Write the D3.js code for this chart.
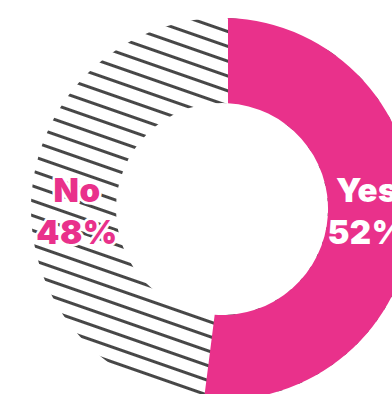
<!DOCTYPE html>
<html>
<head>
<meta charset="utf-8">
<script src="https://cdn.jsdelivr.net/npm/d3@7"></script>
<style>
  html, body { margin: 0; padding: 0; background: #ffffff; }
  svg { display: block; }
</style>
</head>
<body>
<div id="chart"></div>
<script>
// Survey answers shown in the donut
const answers = ["Yes", "No"];
const shares = [52, 48];
const labels = ["52%", "48%"];

const width = 392, height = 394;
const cx = 222, cy = 209;
const outerR = 191, innerR = 106;
const pink = "#e9318b";
const hatchInk = "#474747";

const svg = d3.select("#chart").append("svg")
  .attr("width", width)
  .attr("height", height);

// Diagonal hatching used for the "No" part of the ring
const defs = svg.append("defs");
const hatch = defs.append("pattern")
  .attr("id", "hatch")
  .attr("patternUnits", "userSpaceOnUse")
  .attr("width", 40)
  .attr("height", 14)
  .attr("patternTransform", "rotate(19.2)");
hatch.append("rect")
  .attr("width", 40).attr("height", 14)
  .attr("fill", "#ffffff");
hatch.append("line")
  .attr("x1", 0).attr("x2", 40)
  .attr("y1", 12.5).attr("y2", 12.5)
  .attr("stroke", hatchInk)
  .attr("stroke-width", 3);

const g = svg.append("g").attr("transform", `translate(${cx},${cy})`);

const pie = d3.pie().sort(null).value(d => d.value);
const slices = pie(answers.map((a, i) => ({ answer: a, value: shares[i], label: labels[i] })));

// Hatched track underneath the whole ring
const track = d3.arc().innerRadius(innerR).outerRadius(outerR);
g.append("path")
  .attr("d", track({ startAngle: 0, endAngle: 2 * Math.PI }))
  .attr("fill", "url(#hatch)");

// "Yes" slice, inset by a small constant gap on both edges
const arc = d3.arc()
  .innerRadius(innerR)
  .outerRadius(outerR)
  .padRadius(100)
  .padAngle(0.12);

g.selectAll("path.slice")
  .data(slices)
  .join("path")
  .attr("class", "slice")
  .attr("d", arc)
  .attr("fill", d => d.data.answer === "Yes" ? pink : "none");

// Labels sit in the middle of the ring on the horizontal axis
const labelR = 145;
const labelG = g.selectAll("g.label")
  .data(slices)
  .join("g")
  .attr("class", "label")
  .attr("transform", d => {
    const mid = (d.startAngle + d.endAngle) / 2;
    const side = Math.sin(mid) >= 0 ? 1 : -1;
    return `translate(${side * labelR},0)`;
  });

labelG.each(function(d) {
  const isYes = d.data.answer === "Yes";
  const t = d3.select(this).append("text")
    .attr("text-anchor", "middle")
    .attr("font-family", "Inter, Roboto, sans-serif")
    .attr("font-weight", 900)
    .attr("font-size", 33)
    .attr("letter-spacing", 0.5)
    .attr("fill", isYes ? "#ffffff" : pink)
    .attr("stroke", isYes ? "none" : "#ffffff")
    .attr("stroke-width", isYes ? 0 : 5)
    .attr("stroke-linejoin", "round")
    .attr("paint-order", "stroke");
  t.append("tspan").attr("x", 0).attr("y", -7).text(d.data.answer);
  t.append("tspan").attr("x", 0).attr("y", 35).text(d.data.label);
});
</script>
</body>
</html>
